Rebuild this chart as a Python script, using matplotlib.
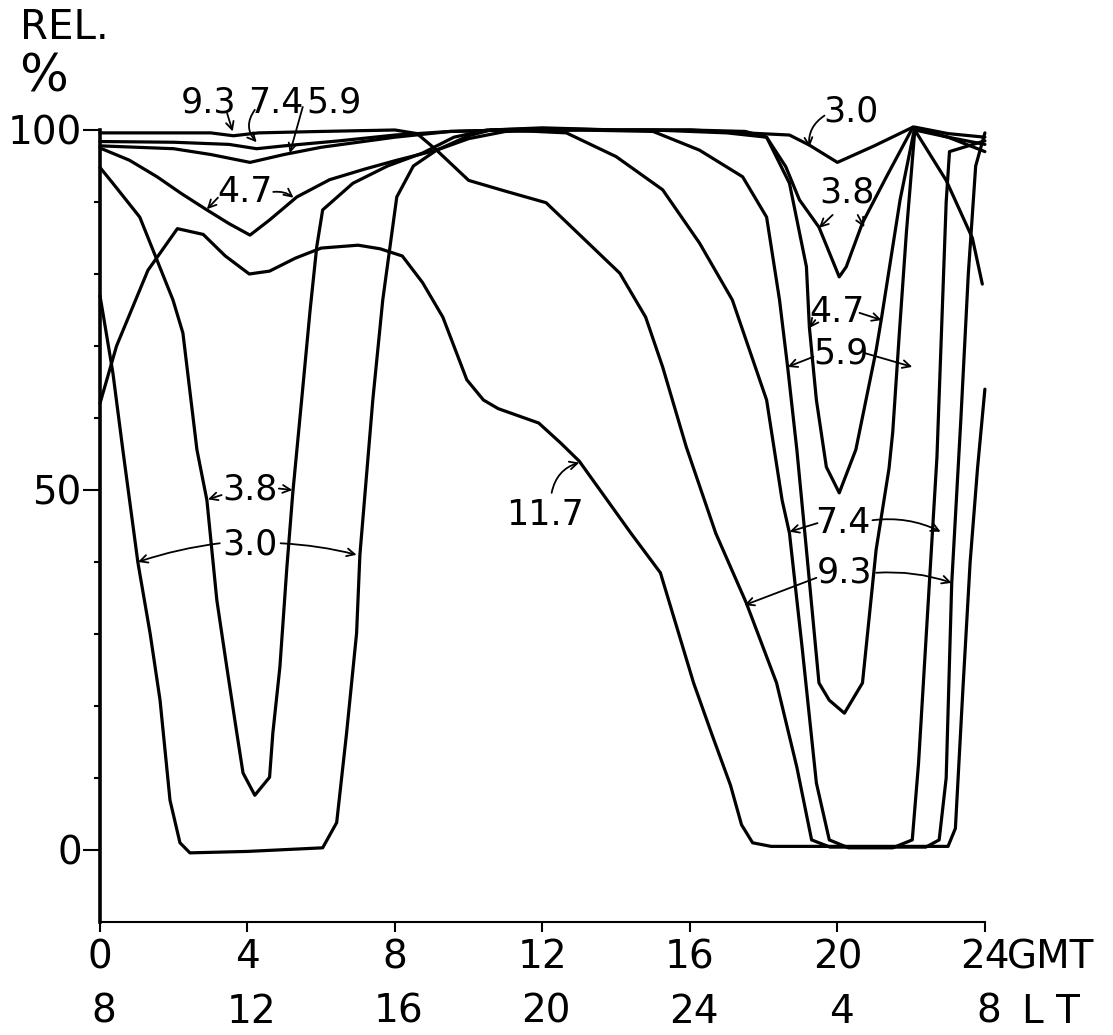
import matplotlib
matplotlib.use("Agg")
import matplotlib.pyplot as plt

# relative availability (%) vs GMT hour, one curve per frequency (MHz)
f30_x = [0, 0.08, 0.35, 0.62, 1.03, 1.36, 1.63, 1.9, 2.17, 2.44, 4.0, 6.04, 6.42, 6.69, 6.96, 7.05,
         7.4, 7.67, 8.05, 8.5, 9.13, 10.0, 10.6, 12, 14, 16, 17.5, 18.7, 19.24, 20.0, 21.0, 22.05,
         22.95, 23.66, 23.93]
f30_y = [77, 74.6, 66.3, 55.6, 39.9, 30.1, 20.8, 6.9, 1.0, -0.4, -0.2, 0.3, 3.8, 16.3, 30.1, 41,
         62.5, 76.4, 90.7, 95, 97.2, 99.2, 100, 100.3, 100, 100, 99.6, 99.3, 97.9, 95.5, 97.8, 100.4,
         93, 85, 78.6]

f38_x = [0, 0.35, 1.08, 1.44, 1.98, 2.25, 2.63, 2.9, 3.17, 3.44, 3.71, 3.88, 4.2, 4.6, 4.69, 4.88,
         5.07, 5.23, 5.47, 5.7, 5.88, 6.04, 6.86, 7.8, 8.75, 9.6, 10.5, 12, 14, 16, 17.5, 18.08,
         18.6, 18.97, 19.5, 20.05, 20.24, 20.68, 21.33, 22.05, 23, 24]
f38_y = [94.8, 92.6, 87.9, 83.3, 76.4, 71.8, 55.6, 48.6, 34.7, 25.4, 16.3, 10.7, 7.6, 10.1, 16.3, 25.4,
         39.3, 49.6, 62.5, 75, 83.8, 88.9, 92.6, 95, 96.8, 99, 100, 100.2, 100, 100, 99.8, 99,
         94.9, 90.3, 86.5, 79.6, 81, 87.1, 93.5, 100.4, 99, 97]

f47_x = [0, 0.8, 1.55, 2.2, 2.9, 3.5, 4.07, 4.6, 5.34, 6.23, 7.2, 8.05, 9.13, 10.0, 11, 13, 15, 17,
         18.08, 18.7, 19.16, 19.24, 19.43, 19.7, 20.05, 20.5, 21.05, 21.2, 21.7, 22.1, 23, 24]
f47_y = [97.5, 95.8, 93.5, 91.2, 88.9, 87, 85.4, 87.5, 90.7, 93.1, 94.6, 95.8, 97.2, 98.8, 99.8, 100,
         100, 99.6, 99, 92.6, 81, 72.6, 62.5, 53.2, 49.6, 55.6, 69.4, 74, 90.3, 100.4, 99.5, 99]

f59_x = [0, 2.0, 3.0, 4.07, 5.0, 6.0, 8.0, 9.5, 11, 13, 15, 16.26, 17.43, 18.08, 18.43, 18.65, 18.9,
         19.16, 19.5, 19.78, 20.19, 20.68, 21.05, 21.4, 21.5, 21.68, 21.87, 22.1, 23, 24]
f59_y = [97.8, 97.4, 96.6, 95.5, 96.6, 97.6, 99, 99.8, 100, 100, 99.8, 97.2, 93.5, 87.9, 76.4, 67.1,
         55.6, 41.7, 23.2, 20.8, 19, 23.2, 41.7, 53, 58, 71.8, 85.7, 100, 99, 98]

f74_x = [0, 2, 3.5, 4.25, 5, 6.5, 8, 9.5, 11, 12.65, 14.0, 15.26, 16.26, 17.15, 18.08, 18.5, 18.7,
         19.05, 19.43, 19.78, 20.3, 21.5, 22.03, 22.2, 22.7, 22.95, 23.04, 24]
f74_y = [98.4, 98.3, 98, 97.4, 97.8, 98.5, 99.3, 99.8, 100, 99.6, 96.3, 91.7, 84.3, 76.4, 62.5, 48.6,
         44, 27.8, 9.3, 1.4, 0.3, 0.3, 1.4, 12, 54.6, 90, 97, 98.5]

f93_x = [0, 3.0, 3.62, 4.3, 6, 8, 8.6, 9.13, 10.0, 11.0, 12.1, 14.1, 14.8, 15.26, 15.9, 16.7, 17.53,
         18.35, 18.9, 19.3, 19.8, 22.4, 22.76, 22.95, 23.1, 23.35, 23.55, 23.75, 24]
f93_y = [99.6, 99.6, 99.2, 99.6, 99.8, 100, 99.5, 97.2, 93, 91.5, 89.9, 80.1, 74, 67.1, 56, 44, 34.3,
         23.2, 11.5, 1.4, 0.4, 0.4, 1.4, 10, 37, 60, 80, 95, 99.6]

f117_x = [0, 0.45, 1.3, 2.1, 2.8, 3.4, 4.05, 4.6, 5.3, 6.0, 7.0, 7.6, 8.2, 8.75, 9.3, 9.95, 10.4,
          10.8, 11.9, 12.5, 13.0, 13.7, 14.4, 15.2, 15.7, 16.1, 16.6, 17.1, 17.4, 17.7, 18.2, 23.0,
          23.2, 23.4, 23.6, 23.8, 24]
f117_y = [62, 70, 80.5, 86.3, 85.5, 82.5, 80.0, 80.4, 82.2, 83.6, 84, 83.5, 82.5, 78.8, 74.0, 65.3,
          62.5, 61.3, 59.3, 56.5, 54, 49, 44, 38.5, 30, 23.2, 16, 9, 3.5, 1, 0.5, 0.5,
          3, 22, 40, 53, 64]

gmt_ticks = [0, 4, 8, 12, 16, 20, 24]
gmt_labels = ["0", "4", "8", "12", "16", "20", "24"]
lt_labels = ["8", "12", "16", "20", "24", "4", "8"]

curves = [(f30_x, f30_y), (f38_x, f38_y), (f47_x, f47_y), (f59_x, f59_y),
          (f74_x, f74_y), (f93_x, f93_y), (f117_x, f117_y)]

fs = 28
fig = plt.figure(figsize=(11.13, 10.35), dpi=100)
ax = fig.add_axes([0.0898, 0.1092, 0.7951, 0.7652])

for xs, ys in curves:
    ax.plot(xs, ys, color="black", lw=2.3, clip_on=False,
            solid_joinstyle="round", solid_capstyle="round")

ax.set_xlim(0, 24)
ax.set_ylim(-10, 100)
for s in ["top", "right"]:
    ax.spines[s].set_visible(False)
ax.spines["left"].set_linewidth(2.6)
ax.spines["bottom"].set_linewidth(1.5)

ax.set_yticks([0, 50, 100])
ax.set_yticklabels(["0", "50", "100"], fontsize=fs)
ax.set_yticks([10, 20, 30, 40, 60, 70, 80, 90], minor=True)
ax.tick_params(axis="y", which="major", length=12, width=1.5, pad=1)
ax.tick_params(axis="y", which="minor", length=4, width=1.5)
ax.set_xticks(gmt_ticks)
ax.set_xticklabels([])
ax.tick_params(axis="x", length=7, width=1.5)

# two rows of time labels: GMT and local time
for x, g, l in zip(gmt_ticks, gmt_labels, lt_labels):
    ax.text(x, -14.9, g, ha="center", va="center", fontsize=fs, clip_on=False)
    ax.text(x + 0.1, -22.5, l, ha="center", va="center", fontsize=fs, clip_on=False)
ax.text(24.6, -14.9, "GMT", ha="left", va="center", fontsize=fs, clip_on=False)
ax.text(25.0, -22.5, "L T", ha="left", va="center", fontsize=fs, clip_on=False)

fig.text(20 / 1113, 1 - 28 / 1035, "REL.", ha="left", va="center", fontsize=29)
fig.text(44 / 1113, 1 - 78 / 1035, "%", ha="center", va="center", fontsize=37)

# frequency labels with arrows pointing to their curves
labels = [
    ("3.0", (4.07, 42.4), [((3.25, 42.6), (1.03, 40.0), 0.05), ((4.9, 42.6), (6.96, 41.0), -0.05)]),
    ("3.8", (4.07, 50.0), [((3.3, 49.3), (2.93, 48.7), 0), ((4.85, 50.2), (5.22, 50.0), 0)]),
    ("4.7", (3.93, 91.4), [((3.2, 90.6), (2.9, 89.0), 0), ((4.7, 91.4), (5.25, 90.6), -0.2)]),
    ("9.3", (2.95, 103.8), [((3.45, 102.3), (3.6, 99.8), 0)]),
    ("7.4", (4.78, 103.8), [((4.2, 102.8), (4.25, 98.3), 0.4)]),
    ("5.9", (6.35, 103.8), [((5.5, 103.2), (5.15, 96.8), 0)]),
    ("3.0", (20.38, 102.6), [((19.65, 102.0), (19.24, 97.6), 0.3)]),
    ("3.8", (20.27, 91.25), [((19.87, 88.2), (19.5, 86.4), 0), ((20.55, 88.2), (20.73, 86.5), 0)]),
    ("4.7", (20.0, 74.7), [((19.4, 73.6), (19.24, 72.5), 0), ((20.6, 74.6), (21.2, 73.6), 0)]),
    ("5.9", (20.1, 68.9), [((19.35, 68.5), (18.65, 67.1), 0), ((20.75, 69.0), (22.03, 67.1), 0)]),
    ("7.4", (20.16, 45.4), [((19.46, 45.4), (18.7, 44.2), 0), ((20.95, 45.8), (22.8, 44.2), -0.15)]),
    ("9.3", (20.2, 38.5), [((19.43, 37.8), (17.48, 34.0), 0), ((21.05, 38.5), (23.1, 37.1), -0.1)]),
    ("11.7", (12.06, 46.5), [((12.25, 49.6), (13.0, 53.8), -0.3)]),
]
for text, pos, arrows in labels:
    ax.text(pos[0], pos[1], text, ha="center", va="center", fontsize=25, clip_on=False)
    for start, tip, rad in arrows:
        ax.annotate("", xy=tip, xytext=start, annotation_clip=False,
                    arrowprops=dict(arrowstyle="->", lw=1.3, color="black",
                                    shrinkA=0, shrinkB=0, mutation_scale=14,
                                    connectionstyle="arc3,rad=%s" % rad))

fig.savefig("out.png", dpi=100, facecolor="white")
